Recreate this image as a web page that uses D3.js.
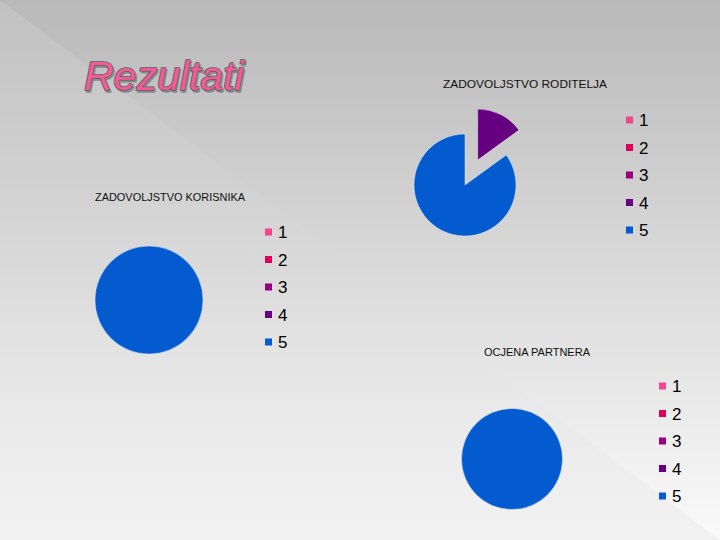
<!DOCTYPE html>
<html>
<head>
<meta charset="utf-8">
<script src="https://cdn.jsdelivr.net/npm/d3@7"></script>
<style>
    html, body { margin: 0; padding: 0; background: #ddd; }
    svg { display: block; }
</style>
</head>
<body>
<svg id="chart" width="720" height="540"></svg>
<script>
// grades 1..5 and their legend colours
var grades = ['1', '2', '3', '4', '5'];
var gradeColors = ['#f0468c', '#e0005c', '#990080', '#660080', '#035bcf'];

// share of answers per grade (percent)
var roditelja = [0, 0, 0, 15, 85];
var korisnika = [0, 0, 0, 0, 100];
var partnera = [0, 0, 0, 0, 100];

var pageTitle = 'Rezultati';

var svg = d3.select('#chart');
var W = 720, H = 540;

var color = d3.scaleOrdinal().domain(grades).range(gradeColors);

// background
var defs = svg.append('defs');

var bg = defs.append('linearGradient')
    .attr('id', 'bg')
    .attr('x1', 0).attr('y1', 0).attr('x2', 0).attr('y2', 1);
bg.append('stop').attr('offset', '0%').attr('stop-color', '#b9b9b9');
bg.append('stop').attr('offset', '50%').attr('stop-color', '#dadada');
bg.append('stop').attr('offset', '100%').attr('stop-color', '#fafafa');

var tri = defs.append('linearGradient')
    .attr('id', 'tri')
    .attr('x1', 0).attr('y1', 0).attr('x2', 0).attr('y2', 1);
tri.append('stop').attr('offset', '0%').attr('stop-color', '#fff').attr('stop-opacity', 0.12);
tri.append('stop').attr('offset', '55%').attr('stop-color', '#fff').attr('stop-opacity', 0.0);
tri.append('stop').attr('offset', '100%').attr('stop-color', '#000').attr('stop-opacity', 0.035);

svg.append('rect')
    .attr('width', W)
    .attr('height', H)
    .attr('fill', 'url(#bg)');

svg.append('path')
    .attr('d', 'M0,0L' + W + ',' + H + 'L0,' + H + 'Z')
    .attr('fill', 'url(#tri)');

// title
var titleG = svg.append('g')
    .attr('font-family', 'Liberation Sans, Arial, sans-serif')
    .attr('font-style', 'italic')
    .attr('font-size', 41);

titleG.append('text')
    .attr('x', 85.5)
    .attr('y', 91.5)
    .attr('fill', '#8a8a8a')
    .attr('stroke', '#8a8a8a')
    .attr('stroke-width', 1.5)
    .text(pageTitle);

titleG.append('text')
    .attr('x', 84)
    .attr('y', 90)
    .attr('fill', '#f55a98')
    .attr('stroke', '#5e5e5e')
    .attr('stroke-width', 1.6)
    .attr('paint-order', 'stroke')
    .text(pageTitle);

function drawPie(opts) {
    var g = svg.append('g');

    g.append('text')
        .attr('x', opts.titleX)
        .attr('y', opts.titleY)
        .attr('font-family', 'Liberation Sans, Arial, sans-serif')
        .attr('font-size', 11)
        .attr('fill', '#111')
        .attr('textLength', opts.titleW)
        .attr('lengthAdjust', 'spacingAndGlyphs')
        .text(opts.title);

    var pie = d3.pie()
        .sort(null)
        .value(d => d.value);

    var arc = d3.arc()
        .innerRadius(0)
        .outerRadius(opts.r);

    var slices = pie(grades.map((k, i) => ({key: k, value: opts.values[i]})))
        .filter(d => d.value > 0);

    g.append('g')
        .attr('transform', 'translate(' + opts.cx + ',' + opts.cy + ')')
        .selectAll('path')
        .data(slices)
        .enter()
        .append('path')
        .attr('d', arc)
        .attr('fill', d => color(d.data.key))
        .attr('stroke', 'rgba(255,255,255,0.5)')
        .attr('stroke-width', 0.8)
        .attr('transform', d => {
            if (opts.explode !== d.data.key) return null;
            var mid = (d.startAngle + d.endAngle) / 2;
            return 'translate(' + (Math.sin(mid) * opts.offset) + ',' + (-Math.cos(mid) * opts.offset) + ')';
        });

    var y = d3.scalePoint()
        .domain(grades)
        .range([opts.legendY, opts.legendY + 4 * 27.5]);

    var item = g.append('g')
        .selectAll('g')
        .data(grades)
        .enter()
        .append('g')
        .attr('transform', d => 'translate(' + opts.legendX + ',' + y(d) + ')');

    item.append('rect')
        .attr('x', 0)
        .attr('y', -3.5)
        .attr('width', 7)
        .attr('height', 7)
        .attr('fill', d => color(d));

    item.append('text')
        .attr('x', 13)
        .attr('y', 6)
        .attr('font-family', 'Liberation Sans, Arial, sans-serif')
        .attr('font-size', 17)
        .attr('fill', '#000')
        .text(d => d);
}

drawPie({
    title: 'ZADOVOLJSTVO RODITELJA',
    titleX: 443, titleY: 88, titleW: 164,
    values: roditelja,
    cx: 465, cy: 185, r: 51,
    explode: '4', offset: 28,
    legendX: 626, legendY: 120
});

drawPie({
    title: 'ZADOVOLJSTVO KORISNIKA',
    titleX: 95, titleY: 201, titleW: 150,
    values: korisnika,
    cx: 149, cy: 300, r: 54,
    legendX: 265, legendY: 232
});

drawPie({
    title: 'OCJENA PARTNERA',
    titleX: 484, titleY: 356, titleW: 106,
    values: partnera,
    cx: 512, cy: 459, r: 50.5,
    legendX: 659, legendY: 386
});
</script>
</body>
</html>
